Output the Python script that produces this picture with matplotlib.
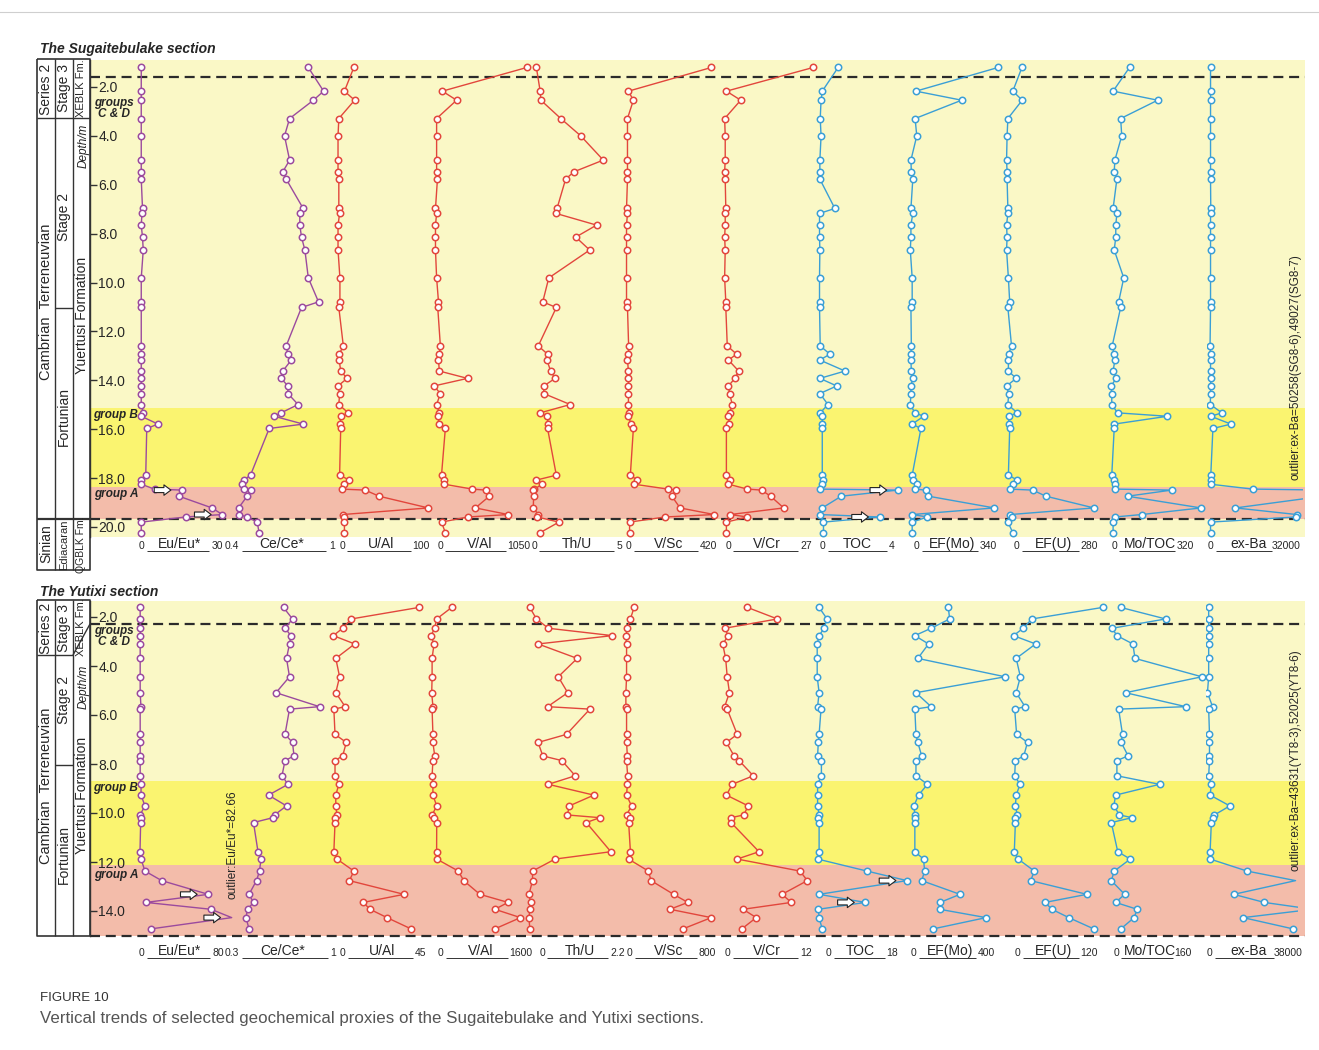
import matplotlib
matplotlib.use('Agg')
import matplotlib.pyplot as plt
import numpy as np

plt.rcParams['font.family'] = ['Liberation Sans', 'DejaVu Sans']

# ------------------------------------------------------------------ data
proxies = ['Eu/Eu*', 'Ce/Ce*', 'U/Al', 'V/Al', 'Th/U', 'V/Sc', 'V/Cr',
           'TOC', 'EF(Mo)', 'EF(U)', 'Mo/TOC', 'ex-Ba']
proxy_group = ['p', 'p', 'r', 'r', 'r', 'r', 'r', 'b', 'b', 'b', 'b', 'b']

# --- Sugaitebulake section
sg_depth = [1.20, 2.17, 2.54, 3.29, 4.00, 4.99, 5.47, 5.77, 6.97, 7.17, 7.65, 8.14, 8.67,
            9.81, 10.79, 11.02, 12.59, 12.93, 13.17, 13.62, 13.92, 14.23, 14.54, 14.99,
            15.33, 15.47, 15.79, 15.97, 17.88, 18.08, 18.25, 18.45, 18.49, 18.74, 19.22,
            19.49, 19.59, 19.80, 20.23]
sg_eu = [1.5, 1.5, 1.5, 1.5, 1.5, 1.5, 1.5, 1.5, 2.0, 1.8, 1.5, 2.0, 2.3, 1.5, 1.5, 1.5, 1.5,
         1.5, 1.5, 1.5, 1.5, 1.5, 1.5, 1.5, 2.3, 1.5, 8.2, 3.7, 3.3, 1.5, 1.5, 6.8, 17.8, 16.6,
         29.8, 33.9, 19.3, 1.5, 1.5]
sg_ce = [0.89, 0.98, 0.92, 0.78, 0.75, 0.78, 0.74, 0.76, 0.86, 0.84, 0.84, 0.85, 0.87, 0.89,
         0.95, 0.85, 0.76, 0.77, 0.79, 0.74, 0.73, 0.77, 0.77, 0.83, 0.73, 0.69, 0.86, 0.66,
         0.55, 0.51, 0.50, 0.51, 0.55, 0.53, 0.48, 0.48, 0.53, 0.59, 0.60]
sg_ual = [21.3, 9.4, 22.3, 2.3, 1.3, 1.3, 1.3, 2.3, 2.3, 3.3, 1.3, 1.3, 1.3, 3.7, 3.7, 2.3, 8.0,
          2.8, 2.8, 4.7, 12.8, 1.3, 3.3, 2.3, 14.2, 5.6, 3.3, 4.7, 3.3, 15.6, 8.5, 6.1, 35.6,
          53.2, 115.6, 7.1, 8.5, 9.4, 9.4]
sg_val = [1249, 124, 314, 48, 48, 48, 48, 59, 33, 48, 33, 33, 33, 48, 73, 63, 98, 84, 73, 84,
          459, 13, 98, 48, 84, 63, 84, 164, 113, 148, 148, 524, 698, 749, 564, 999, 463, 113, 164]
sg_thu = [0.40, 0.62, 0.66, 1.82, 2.98, 4.29, 2.58, 2.10, 1.60, 1.53, 3.90, 2.69, 3.50, 1.12,
          0.77, 1.56, 0.51, 1.05, 1.01, 1.23, 1.49, 0.83, 0.83, 2.37, 0.62, 1.01, 1.10, 1.05,
          1.56, 0.40, 0.73, 0.29, 0.22, 0.24, 0.22, 0.51, 0.44, 1.71, 0.62]
sg_vsc = [454, 18, 44, 13, 13, 13, 13, 13, 8, 13, 8, 8, 8, 8, 8, 13, 19, 18, 13, 18, 18, 18, 18,
          18, 19, 18, 32, 44, 28, 64, 48, 226, 266, 246, 289, 468, 211, 24, 24]
sg_vcr = [31.2, 1.5, 6.4, 0.9, 1.1, 1.1, 0.9, 1.1, 1.3, 1.1, 1.1, 0.9, 1.1, 0.9, 1.3, 1.3, 1.8,
          5.0, 2.2, 5.7, 4.4, 2.2, 2.6, 3.5, 2.6, 2.2, 2.5, 1.5, 1.5, 2.8, 2.2, 8.7, 13.5, 16.6,
          21.1, 2.8, 8.7, 1.5, 1.5]
sg_toc = [1.11, 0.19, 0.12, 0.07, 0.12, 0.05, 0.05, 0.05, 0.92, 0.03, 0.03, 0.03, 0.05, 0.03,
          0.03, 0.03, 0.07, 0.63, 0.05, 1.51, 0.05, 1.03, 0.05, 0.52, 0.07, 0.19, 0.19, 0.19,
          0.19, 0.26, 0.19, 0.05, 4.57, 1.29, 0.19, 0.05, 3.51, 0.26, 0.26]
sg_efmo = [432, 38, 257, 34, 42, 14, 16, 23, 14, 23, 14, 14, 11, 20, 20, 14, 16, 14, 14, 16, 23,
           14, 14, 11, 33, 75, 20, 62, 20, 23, 44, 34, 84, 98, 413, 20, 93, 20, 20]
sg_efu = [65, 30, 66, 11, 8, 6, 8, 8, 11, 11, 6, 8, 6, 13, 18, 11, 25, 14, 13, 13, 43, 6, 14, 11,
          47, 14, 14, 18, 13, 47, 30, 18, 106, 157, 341, 21, 25, 11, 30]
sg_motoc = [97, 23, 224, 57, 62, 31, 28, 40, 23, 40, 35, 35, 28, 71, 48, 57, 19, 28, 31, 23, 37,
            14, 17, 17, 43, 268, 28, 28, 17, 28, 31, 31, 287, 88, 419, 152, 31, 23, 23]
sg_exba = [1700, 1700, 1700, 1700, 1700, 1700, 1700, 1700, 1800, 1700, 1700, 1700, 1700, 1700,
           1700, 1700, 1500, 1700, 1700, 1700, 1800, 1700, 1700, 1600, 6500, 1800, 10300, 2700,
           1800, 1800, 1700, 19450, 50258, 49027, 12200, 38000, 37500, 1700, 1700]
sg_scale_min = [0, 0.4, 0, 0, 0, 0, 0, 0, 0, 0, 0, 0]
sg_scale_max = [30, 1, 100, 1050, 5, 420, 27, 4, 340, 280, 320, 32000]
sg_depth_ticks = [2.0, 4.0, 6.0, 8.0, 10.0, 12.0, 14.0, 16.0, 18.0, 20.0]

# --- Yutixi section
yt_depth = [1.61, 2.08, 2.46, 2.76, 3.10, 3.69, 4.44, 5.09, 5.66, 5.76, 6.79, 7.12, 7.67, 7.86,
            8.48, 8.83, 9.27, 9.71, 10.08, 10.19, 10.39, 11.58, 11.88, 12.37, 12.76, 13.32,
            13.65, 13.93, 14.27, 14.73]
yt_eu = [2.8, 2.8, 2.8, 3.0, 2.8, 2.8, 2.8, 2.8, 3.6, 2.8, 2.8, 2.8, 2.8, 2.8, 2.8, 3.7, 3.7,
         7.8, 2.6, 3.3, 3.3, 2.6, 3.7, 7.8, 25.3, 74.0, 8.9, 76.9, 98.5, 14.1]
yt_ce = [0.69, 0.75, 0.70, 0.74, 0.73, 0.71, 0.73, 0.64, 0.93, 0.73, 0.70, 0.75, 0.76, 0.70,
         0.68, 0.72, 0.59, 0.71, 0.63, 0.62, 0.49, 0.52, 0.54, 0.53, 0.51, 0.46, 0.49, 0.45,
         0.44, 0.46]
yt_ual = [46.0, 10.6, 6.1, 1.2, 12.4, 2.5, 4.5, 2.5, 7.4, 1.5, 2.1, 8.0, 6.1, 2.1, 2.1, 4.1, 2.5,
          2.5, 3.1, 2.1, 2.1, 1.5, 3.1, 12.0, 9.6, 38.2, 16.9, 20.4, 29.3, 41.9]
yt_val = [417, 140, 105, 37, 92, 57, 57, 50, 72, 57, 72, 72, 105, 72, 57, 72, 72, 142, 57, 101,
          142, 140, 142, 540, 638, 936, 1454, 1211, 1682, 1211]
yt_thu = [0.07, 0.24, 0.54, 2.16, 0.28, 1.27, 0.79, 1.03, 0.52, 1.59, 1.00, 0.28, 0.40, 0.88,
          1.22, 0.54, 1.69, 1.07, 1.02, 1.84, 1.50, 2.12, 0.71, 0.14, 0.14, 0.05, 0.09, 0.07,
          0.05, 0.07]
yt_vsc = [102, 65, 34, 19, 26, 26, 26, 19, 19, 26, 26, 26, 34, 26, 37, 34, 26, 76, 26, 65, 47,
          65, 46, 247, 274, 502, 647, 465, 884, 597]
yt_vcr = [3.82, 8.31, 0.39, 0.96, 0.10, 0.55, 0.78, 1.12, 0.39, 0.78, 2.28, 0.67, 1.81, 2.56,
          4.69, 1.53, 0.67, 3.94, 3.25, 1.36, 1.36, 5.55, 2.28, 11.7, 12.8, 9.0, 10.4, 3.15,
          5.14, 2.97]
yt_toc = [0.80, 2.85, 2.08, 0.80, 0.31, 0.31, 0.31, 0.80, 0.41, 1.29, 0.80, 0.59, 0.41, 1.39,
          1.39, 0.41, 0.41, 0.41, 0.80, 0.41, 0.80, 0.80, 0.41, 13.1, 23.4, 0.80, 12.7, 0.59,
          0.80, 1.59]
yt_efmo = [218, 225, 125, 37, 111, 53, 525, 43, 125, 37, 43, 53, 74, 43, 43, 105, 57, 32, 37,
           37, 37, 37, 84, 90, 74, 281, 173, 171, 422, 136]
yt_efu = [148, 35, 21, 5.6, 41, 9.9, 16.6, 9.9, 24, 7.5, 10.6, 28, 22, 8.6, 7.5, 16, 9.9, 8.6,
          11.7, 7.5, 8.6, 6.9, 13, 39, 33, 123, 56, 67, 94, 134]
yt_motoc = [25, 129, 5, 16, 53, 58, 213, 36, 176, 20, 29, 26, 42, 16, 16, 115, 13, 9, 22, 51, 3,
            18, 47, 10, 3, 34, 13, 63, 56, 25]
yt_exba = [1300, 1300, 1300, 1300, 1300, 1300, 1300, 700, 3200, 1300, 1700, 1700, 1700, 1700,
           1300, 2600, 2000, 11600, 4100, 3200, 2600, 2000, 2000, 20000, 43631, 13500, 28400,
           52025, 18100, 42400]
yt_scale_min = [0, 0.3, 0, 0, 0, 0, 0, 0, 0, 0, 0, 0]
yt_scale_max = [80, 1, 45, 1600, 2.2, 800, 12, 18, 400, 120, 160, 38000]
yt_depth_ticks = [2.0, 4.0, 6.0, 8.0, 10.0, 12.0, 14.0]

# ------------------------------------------------------------------ styling / layout
W, H = 1319, 1050
COL = {'p': '#9B4A9E', 'r': '#E2463C', 'b': '#3A9FD6'}
LIGHT, YEL, PINK = '#FAF8C6', '#FAF470', '#F3BCAA'
INK = '#262626'

panels = [
    dict(title='The Sugaitebulake section', title_y=49,
         top=60, bottom=537, y_d2=87, px_m=440 / 18.0,
         depth=sg_depth,
         data=[sg_eu, sg_ce, sg_ual, sg_val, sg_thu, sg_vsc, sg_vcr, sg_toc, sg_efmo, sg_efu,
               sg_motoc, sg_exba],
         smin=sg_scale_min, smax=sg_scale_max, ticks=sg_depth_ticks,
         bands=[(None, 15.13, LIGHT), (15.13, 18.36, YEL), (18.36, 19.67, PINK),
                (19.67, None, LIGHT)],
         dashed=[1.59, 19.67],
         lane_x0=[137.5, 225, 337, 433, 529.5, 625, 722, 819, 908, 1005, 1108, 1206.5],
         lane_span=[75, 102, 79, 79, 86, 80, 79, 69, 71, 73, 71, 76],
         clip_px=1303,
         lab_min_x=[141.5, 232, 342, 440, 534, 629, 728, 823, 917, 1017, 1114, 1211],
         lab_max_x=[217, 331.7, 420.9, 518.4, 619, 708, 806, 892, 988, 1089, 1185, 1286],
         lab_y=545,
         nomark={11: [32, 33]},
         arrows=[(0, 32), (0, 35), (7, 32), (7, 36)]),
    dict(title='The Yutixi section', title_y=592,
         top=601, bottom=936, y_d2=617, px_m=24.5,
         depth=yt_depth,
         data=[yt_eu, yt_ce, yt_ual, yt_val, yt_thu, yt_vsc, yt_vcr, yt_toc, yt_efmo, yt_efu,
               yt_motoc, yt_exba],
         smin=yt_scale_min, smax=yt_scale_max, ticks=yt_depth_ticks,
         bands=[(None, 8.69, LIGHT), (8.69, 12.12, YEL), (12.12, None, PINK)],
         dashed=[2.29, 15.02],
         lane_x0=[137.5, 225, 331, 429, 527, 624, 722, 816, 908, 1010, 1110, 1206],
         lane_span=[76.5, 105, 86, 87, 87, 79, 80, 70, 74, 75, 69, 78],
         clip_px=1298,
         lab_min_x=[141.5, 232, 343, 440.8, 542, 629.4, 727.7, 828.3, 913.3, 1017.4, 1116, 1209.9],
         lab_max_x=[218, 333.6, 420.9, 520.4, 618, 707, 806, 892.2, 986, 1089.3, 1183, 1288],
         lab_y=952,
         nomark={0: [28], 11: [24, 27]},
         arrows=[(0, 25), (0, 28), (7, 24), (7, 26)]),
]

fig = plt.figure(figsize=(W / 100, H / 100), dpi=100)
fig.patch.set_facecolor('white')


def px_axes(x0, x1, yt, yb, **kw):
    return fig.add_axes([x0 / W, 1 - yb / H, (x1 - x0) / W, (yb - yt) / H], **kw)


def fmt(v):
    return f'{v:g}'


for P in panels:
    d_top = 2.0 + (P['top'] - P['y_d2']) / P['px_m']
    d_bot = 2.0 + (P['bottom'] - P['y_d2']) / P['px_m']

    # background bands + depth axis
    axb = px_axes(90, 1305, P['top'], P['bottom'])
    axb.set_xlim(0, 1)
    axb.set_ylim(d_bot, d_top)
    for a, b, c in P['bands']:
        axb.axhspan(d_top if a is None else a, d_bot if b is None else b,
                    color=c, lw=0, zorder=0)
    for d in P['dashed']:
        axb.axhline(d, color='#2b2b2b', lw=1.6, ls=(0, (4.5, 2.6)), zorder=5, clip_on=False)
    for s in ['top', 'right', 'bottom']:
        axb.spines[s].set_visible(False)
    axb.spines['left'].set_color('#333333')
    axb.spines['left'].set_linewidth(1.0)
    axb.set_xticks([])
    axb.set_yticks(P['ticks'], labels=[f'{t:.1f}' for t in P['ticks']])
    axb.tick_params(axis='y', direction='in', length=5, width=1.0, color='#333333',
                    pad=-6, labelsize=10, labelcolor=INK)
    for t in axb.get_yticklabels():
        t.set_horizontalalignment('left')
    axb.patch.set_alpha(0)

    dep = np.array(P['depth'])
    for j in range(12):
        x0, span = P['lane_x0'][j], P['lane_span'][j]
        vmin, vmax = P['smin'][j], P['smax'][j]
        clip = (j == 11)
        if clip:
            x1 = P['clip_px']
            vmax_ax = vmin + (vmax - vmin) * (x1 - x0) / span
        else:
            x1 = x0 + span
            vmax_ax = vmax
        ax = px_axes(x0, x1, P['top'], P['bottom'])
        ax.set_xlim(vmin, vmax_ax)
        ax.set_ylim(d_bot, d_top)
        ax.axis('off')
        c = COL[proxy_group[j]]
        vals = np.array(P['data'][j], dtype=float)
        ax.plot(vals, dep, '-', color=c, lw=1.0, clip_on=clip, zorder=2)
        mask = np.ones(len(vals), bool)
        for k in P['nomark'].get(j, []):
            mask[k] = False
        ax.plot(vals[mask], dep[mask], 'o', ms=4.6, mfc='white', mec=c, mew=1.1,
                clip_on=clip, zorder=3)
        for (lj, k) in P['arrows']:
            if lj == j:
                ax.annotate('', xy=(vals[k], dep[k]), xytext=(-20, 0),
                            textcoords='offset points', annotation_clip=False,
                            arrowprops=dict(arrowstyle='simple,head_length=0.5,head_width=0.75,tail_width=0.36',
                                            fc='white', ec='#222222', lw=0.8,
                                            shrinkA=0, shrinkB=8, mutation_scale=10))

# ------------------------------------------------------------------ overlay (text, column)
ov = fig.add_axes([0, 0, 1, 1], zorder=20)
ov.set_xlim(0, W)
ov.set_ylim(H, 0)
ov.axis('off')

ov.plot([0, W], [12, 12], color='#cfcfcf', lw=0.8)

LC = '#333333'


def line(xs, ys, lw=1.0):
    ov.plot(xs, ys, color=LC, lw=lw, solid_capstyle='butt')


def vtext(x, y, s, fs=10, **kw):
    ov.text(x, y, s, rotation=90, ha='center', va='center', fontsize=fs, color=INK, **kw)


# --- Sugaitebulake column
line([37, 90, 90, 37, 37], [59, 59, 570, 570, 59], lw=1.2)
line([55, 55], [59, 570])
line([73, 73], [59, 570])
line([37, 90], [118, 118])
line([37, 90], [519, 519], lw=1.6)
line([55, 73], [308, 308])
vtext(46, 89, 'Series 2')
vtext(64, 88, 'Stage 3')
vtext(81.5, 88, 'XEBLK Fm.', fs=8)
vtext(46, 302, 'Cambrian  Terreneuvian', fs=10.5)
vtext(64, 217, 'Stage 2')
vtext(64, 417, 'Fortunian')
vtext(81.5, 315, 'Yuertusi Formation')
vtext(84, 146, 'Depth/m', fs=8.5, style='italic')
vtext(46, 544, 'Sinian', fs=10)
vtext(64, 545, 'Ediacaran', fs=8)
vtext(81.5, 545, 'QGBLK Fm.', fs=7.5)

# --- Yutixi column
line([37, 90, 90, 37, 37], [600, 600, 936, 936, 600], lw=1.2)
line([55, 55], [600, 936])
line([73, 73], [600, 936])
line([37, 73], [655, 655])
line([73, 90], [655, 624])
line([55, 73], [765, 765])
vtext(46, 628, 'Series 2')
vtext(64, 628, 'Stage 3')
vtext(81.5, 627, 'XEBLK Fm.', fs=8)
vtext(84, 687, 'Depth/m', fs=8.5, style='italic')
vtext(64, 700, 'Stage 2')
vtext(46, 786, 'Cambrian  Terreneuvian', fs=10.5)
vtext(64, 855, 'Fortunian')
vtext(81.5, 795, 'Yuertusi Formation')

# --- titles and group labels
for P in panels:
    ov.text(40, P['title_y'], P['title'], fontsize=10, fontweight='bold', style='italic',
            ha='left', va='center', color=INK)

grp = dict(fontsize=8.5, fontweight='bold', style='italic', ha='center', va='center', color=INK)
ov.text(114, 103, 'groups', **grp)
ov.text(114, 114, 'C & D', **grp)
ov.text(115, 415, 'group B', **grp)
ov.text(116, 494, 'group A', **grp)
ov.text(114, 631, 'groups', **grp)
ov.text(114, 642, 'C & D', **grp)
ov.text(115, 788, 'group B', **grp)
ov.text(116, 875, 'group A', **grp)

vtext(1295, 367, 'outlier:ex-Ba=50258(SG8-6),49027(SG8-7)', fs=8.5)
vtext(1295, 760, 'outlier:ex-Ba=43631(YT8-3),52025(YT8-6)', fs=8.5)
vtext(233, 845, 'outlier:Eu/Eu*=82.66', fs=8.5)

# --- lane scale labels
for P in panels:
    y = P['lab_y']
    for j in range(12):
        xa, xb = P['lab_min_x'][j], P['lab_max_x'][j]
        smin, smax = fmt(P['smin'][j]), fmt(P['smax'][j])
        ov.text(xa, y + 1, smin, fontsize=7.5, ha='center', va='center', color=INK)
        ov.text(xb, y + 1, smax, fontsize=7.5, ha='center', va='center', color=INK)
        ov.text((xa + xb) / 2, y - 1, proxies[j], fontsize=10, ha='center', va='center',
                color=INK)
        ua = xa + len(smin) * 2.3 + 3
        ub = xb - len(smax) * 2.3 - 3
        line([ua, ub], [y + 6, y + 6], lw=0.7)

# --- caption
ov.text(40, 998, 'FIGURE 10', fontsize=9.5, color='#333333', ha='left', va='center')
ov.text(40, 1018, 'Vertical trends of selected geochemical proxies of the Sugaitebulake and '
        'Yutixi sections.', fontsize=12.2, color='#555555', ha='left', va='center')

fig.savefig('out.png', dpi=100, facecolor='white')
